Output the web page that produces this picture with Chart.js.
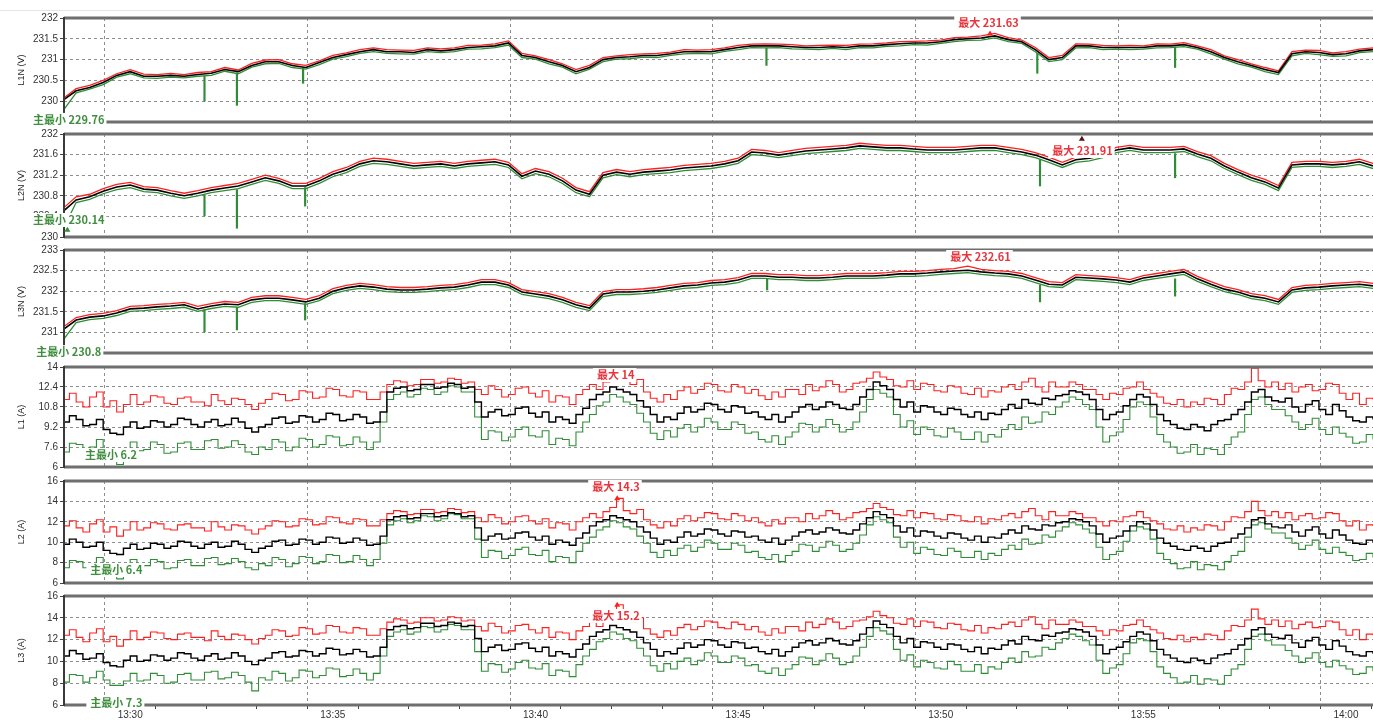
<!DOCTYPE html>
<html>
<head>
<meta charset="utf-8">
<script src="https://cdn.jsdelivr.net/npm/chart.js@4.4.1/dist/chart.umd.min.js"></script>
<style>
    body { margin: 0; background: #fff; width: 1373px; height: 720px; overflow: hidden; position: relative; }
    #topline { position: absolute; left: 0; top: 10px; width: 1373px; height: 1px; background: #e4e4e4; }
    canvas { position: absolute; left: 0; }
</style>
</head>
<body>
<div id="topline"></div>
<div id="panels"></div>
<script>
// 时间轴：以 13:00:00 起算的秒数
const START_SEC = 1700;   // 13:28:20
const V_STEP = 20;        // 电压每 20 秒一个采样
const A_STEP = 10;        // 电流每 10 秒一个采样
const X_MIN = 1702;       // 13:28:22
const X_MAX = 3640;       // 14:00:40

// ---------- L1N (V) ----------
const l1nMax = [230.06, 230.30, 230.38, 230.50, 230.66, 230.76, 230.65, 230.64, 230.67, 230.64,
    230.69, 230.71, 230.81, 230.75, 230.91, 230.99, 231.00, 230.90, 230.86, 230.97,
    231.10, 231.16, 231.24, 231.28, 231.24, 231.23, 231.22, 231.28, 231.26, 231.28,
    231.34, 231.35, 231.38, 231.45, 231.15, 231.09, 231.00, 230.90, 230.76, 230.86,
    231.05, 231.09, 231.12, 231.14, 231.15, 231.18, 231.24, 231.23, 231.24, 231.28,
    231.34, 231.37, 231.38, 231.37, 231.36, 231.33, 231.34, 231.35, 231.34, 231.37,
    231.38, 231.40, 231.43, 231.44, 231.45, 231.47, 231.53, 231.54, 231.57, 231.63,
    231.53, 231.47, 231.29, 231.05, 231.10, 231.38, 231.37, 231.34, 231.33, 231.34,
    231.33, 231.38, 231.37, 231.41, 231.33, 231.24, 231.09, 231.00, 230.90, 230.81,
    230.73, 231.19, 231.23, 231.22, 231.16, 231.19, 231.25, 231.28];
const l1nAvg = [230.02, 230.25, 230.33, 230.45, 230.62, 230.71, 230.60, 230.60, 230.62, 230.60,
    230.64, 230.67, 230.76, 230.71, 230.86, 230.95, 230.95, 230.86, 230.81, 230.93,
    231.05, 231.12, 231.19, 231.24, 231.19, 231.19, 231.17, 231.24, 231.21, 231.24,
    231.29, 231.31, 231.33, 231.40, 231.10, 231.05, 230.95, 230.86, 230.71, 230.81,
    231.00, 231.05, 231.07, 231.10, 231.10, 231.14, 231.19, 231.19, 231.19, 231.24,
    231.29, 231.33, 231.33, 231.33, 231.31, 231.29, 231.29, 231.31, 231.29, 231.33,
    231.33, 231.36, 231.38, 231.40, 231.40, 231.43, 231.48, 231.50, 231.52, 231.57,
    231.48, 231.43, 231.24, 231.00, 231.05, 231.33, 231.33, 231.29, 231.29, 231.29,
    231.29, 231.33, 231.33, 231.36, 231.29, 231.19, 231.05, 230.95, 230.86, 230.76,
    230.69, 231.14, 231.19, 231.17, 231.12, 231.14, 231.21, 231.24];
const l1nMin = [229.76, 230.20, 230.29, 230.40, 230.58, 230.66, 230.56, 230.55, 230.58, 230.56,
    230.60, 230.62, 230.72, 230.66, 230.82, 230.90, 230.91, 230.81, 230.77, 230.88,
    231.01, 231.07, 231.15, 231.19, 231.15, 231.14, 231.13, 231.19, 231.17, 231.19,
    231.25, 231.26, 231.29, 231.35, 231.05, 231.01, 230.90, 230.82, 230.66, 230.77,
    230.95, 231.01, 231.02, 231.06, 231.05, 231.10, 231.14, 231.15, 231.14, 231.20,
    231.24, 231.29, 231.28, 231.29, 231.26, 231.25, 231.24, 231.27, 231.24, 231.29,
    231.28, 231.32, 231.33, 231.36, 231.35, 231.39, 231.43, 231.46, 231.47, 231.52,
    231.43, 231.39, 231.19, 230.95, 231.00, 231.28, 231.29, 231.24, 231.25, 231.24,
    231.25, 231.28, 231.29, 231.31, 231.25, 231.14, 231.01, 230.90, 230.82, 230.71,
    230.64, 231.09, 231.15, 231.12, 231.08, 231.09, 231.17, 231.19];
// 瞬时跌落 [时间秒, 最低, 起点]
const l1nDips = [[1910, 230.00, 230.60], [1958, 229.90, 230.68], [2056, 230.43, 230.80],
    [2742, 230.86, 231.28], [3143, 230.67, 231.15], [3347, 230.81, 231.30]];
const l1nTicks = [229.5, 230, 230.5, 231, 231.5, 232];

// ---------- L2N (V) ----------
const l2nMax = [230.55, 230.78, 230.83, 230.94, 231.02, 231.06, 230.98, 230.96, 230.90, 230.85,
    230.90, 230.96, 231.00, 231.04, 231.12, 231.20, 231.14, 231.04, 231.04, 231.14,
    231.27, 231.35, 231.47, 231.53, 231.51, 231.47, 231.43, 231.45, 231.47, 231.43,
    231.47, 231.49, 231.51, 231.45, 231.23, 231.33, 231.27, 231.14, 230.96, 230.88,
    231.25, 231.31, 231.27, 231.31, 231.33, 231.35, 231.39, 231.41, 231.43, 231.47,
    231.53, 231.70, 231.68, 231.64, 231.68, 231.72, 231.74, 231.76, 231.78, 231.82,
    231.80, 231.78, 231.78, 231.76, 231.74, 231.74, 231.74, 231.76, 231.78, 231.78,
    231.74, 231.70, 231.64, 231.55, 231.45, 231.55, 231.58, 231.64, 231.74, 231.78,
    231.74, 231.74, 231.74, 231.76, 231.66, 231.58, 231.43, 231.31, 231.20, 231.12,
    231.00, 231.45, 231.47, 231.47, 231.45, 231.47, 231.51, 231.43];
const l2nAvg = [230.49, 230.72, 230.78, 230.89, 230.97, 231.01, 230.93, 230.91, 230.85, 230.80,
    230.85, 230.91, 230.95, 230.99, 231.07, 231.15, 231.09, 230.99, 230.99, 231.09,
    231.22, 231.30, 231.42, 231.48, 231.46, 231.42, 231.38, 231.40, 231.42, 231.38,
    231.42, 231.44, 231.46, 231.40, 231.18, 231.28, 231.22, 231.09, 230.91, 230.83,
    231.20, 231.26, 231.22, 231.26, 231.28, 231.30, 231.34, 231.36, 231.38, 231.42,
    231.48, 231.65, 231.63, 231.59, 231.63, 231.67, 231.69, 231.71, 231.73, 231.77,
    231.75, 231.73, 231.73, 231.71, 231.69, 231.69, 231.69, 231.71, 231.73, 231.73,
    231.69, 231.65, 231.59, 231.50, 231.40, 231.50, 231.53, 231.59, 231.69, 231.73,
    231.69, 231.69, 231.69, 231.71, 231.61, 231.53, 231.38, 231.26, 231.15, 231.07,
    230.95, 231.40, 231.42, 231.42, 231.40, 231.42, 231.46, 231.38];
const l2nMin = [230.14, 230.67, 230.73, 230.84, 230.92, 230.96, 230.88, 230.86, 230.80, 230.75,
    230.80, 230.86, 230.90, 230.94, 231.02, 231.10, 231.04, 230.94, 230.94, 231.04,
    231.17, 231.25, 231.37, 231.43, 231.41, 231.37, 231.33, 231.35, 231.37, 231.33,
    231.37, 231.39, 231.41, 231.35, 231.13, 231.23, 231.17, 231.04, 230.86, 230.78,
    231.15, 231.21, 231.17, 231.21, 231.23, 231.25, 231.29, 231.31, 231.33, 231.37,
    231.43, 231.60, 231.58, 231.54, 231.58, 231.62, 231.64, 231.66, 231.68, 231.72,
    231.70, 231.68, 231.68, 231.66, 231.64, 231.64, 231.64, 231.66, 231.68, 231.68,
    231.64, 231.60, 231.54, 231.45, 231.35, 231.45, 231.48, 231.54, 231.64, 231.68,
    231.64, 231.64, 231.64, 231.66, 231.56, 231.48, 231.33, 231.21, 231.10, 231.02,
    230.90, 231.35, 231.37, 231.37, 231.35, 231.37, 231.41, 231.33];
const l2nDips = [[1910, 230.41, 230.82], [1958, 230.17, 230.92], [2059, 230.60, 230.96],
    [3147, 230.99, 231.50], [3347, 231.15, 231.62]];
const l2nTicks = [230, 230.4, 230.8, 231.2, 231.6, 232];

// ---------- L3N (V) ----------
const l3nMax = [231.12, 231.36, 231.43, 231.46, 231.53, 231.63, 231.65, 231.68, 231.70, 231.73,
    231.63, 231.70, 231.75, 231.73, 231.85, 231.89, 231.89, 231.85, 231.80, 231.89,
    232.06, 232.14, 232.19, 232.16, 232.11, 232.09, 232.09, 232.11, 232.14, 232.16,
    232.21, 232.28, 232.28, 232.21, 232.04, 231.99, 231.94, 231.85, 231.73, 231.65,
    231.99, 232.04, 232.04, 232.06, 232.09, 232.14, 232.19, 232.21, 232.26, 232.28,
    232.33, 232.43, 232.43, 232.40, 232.40, 232.38, 232.38, 232.40, 232.43, 232.43,
    232.43, 232.45, 232.48, 232.48, 232.50, 232.53, 232.55, 232.61, 232.53, 232.50,
    232.48, 232.43, 232.33, 232.23, 232.21, 232.40, 232.38, 232.36, 232.33, 232.28,
    232.38, 232.43, 232.48, 232.53, 232.36, 232.23, 232.11, 232.04, 231.94, 231.89,
    231.80, 232.09, 232.14, 232.16, 232.19, 232.21, 232.23, 232.19];
const l3nAvg = [231.06, 231.30, 231.37, 231.40, 231.47, 231.57, 231.59, 231.62, 231.64, 231.67,
    231.57, 231.64, 231.69, 231.67, 231.79, 231.83, 231.83, 231.79, 231.74, 231.83,
    232.00, 232.08, 232.13, 232.10, 232.05, 232.03, 232.03, 232.05, 232.08, 232.10,
    232.15, 232.22, 232.22, 232.15, 231.98, 231.93, 231.88, 231.79, 231.67, 231.59,
    231.93, 231.98, 231.98, 232.00, 232.03, 232.08, 232.13, 232.15, 232.20, 232.22,
    232.27, 232.37, 232.37, 232.34, 232.34, 232.32, 232.32, 232.34, 232.37, 232.37,
    232.37, 232.39, 232.42, 232.42, 232.44, 232.47, 232.49, 232.51, 232.47, 232.44,
    232.42, 232.37, 232.27, 232.17, 232.15, 232.34, 232.32, 232.30, 232.27, 232.22,
    232.32, 232.37, 232.42, 232.47, 232.30, 232.17, 232.05, 231.98, 231.88, 231.83,
    231.74, 232.03, 232.08, 232.10, 232.13, 232.15, 232.17, 232.13];
const l3nMin = [230.80, 231.24, 231.31, 231.34, 231.41, 231.51, 231.53, 231.56, 231.58, 231.61,
    231.51, 231.58, 231.63, 231.61, 231.73, 231.77, 231.77, 231.73, 231.68, 231.77,
    231.94, 232.02, 232.07, 232.04, 231.99, 231.97, 231.97, 231.99, 232.02, 232.04,
    232.09, 232.16, 232.16, 232.09, 231.92, 231.87, 231.82, 231.73, 231.61, 231.53,
    231.87, 231.92, 231.92, 231.94, 231.97, 232.02, 232.07, 232.09, 232.14, 232.16,
    232.21, 232.31, 232.31, 232.28, 232.28, 232.26, 232.26, 232.28, 232.31, 232.31,
    232.31, 232.33, 232.36, 232.36, 232.38, 232.41, 232.43, 232.45, 232.41, 232.38,
    232.36, 232.31, 232.21, 232.11, 232.09, 232.28, 232.26, 232.24, 232.21, 232.16,
    232.26, 232.31, 232.36, 232.41, 232.24, 232.11, 231.99, 231.92, 231.82, 231.77,
    231.68, 231.97, 232.02, 232.04, 232.07, 232.09, 232.11, 232.07];
const l3nDips = [[1910, 231.01, 231.55], [1958, 231.06, 231.60], [2059, 231.30, 231.70],
    [2743, 232.03, 232.30], [3147, 231.74, 232.15], [3347, 231.88, 232.30]];
const l3nTicks = [230.5, 231, 231.5, 232, 232.5, 233];

// ---------- L1 (A) ----------
const l1Max = [11.4, 11.9, 11.2, 10.8, 11.6, 12.0, 10.8, 11.3, 10.4, 11.0,
    11.8, 11.0, 11.2, 11.7, 11.6, 11.1, 11.0, 11.5, 11.6, 11.2,
    11.2, 10.9, 11.8, 11.3, 11.0, 11.5, 11.4, 11.0, 10.6, 11.1,
    11.4, 11.9, 11.8, 11.3, 11.4, 12.1, 12.0, 11.5, 11.6, 12.3,
    12.2, 11.7, 11.6, 12.1, 12.0, 11.4, 11.4, 12.0, 12.6, 12.9,
    12.8, 12.5, 12.6, 13.0, 13.0, 12.7, 12.8, 13.1, 13.0, 12.7,
    12.8, 12.2, 11.8, 12.5, 12.2, 11.6, 11.8, 12.3, 12.4, 11.9,
    11.6, 12.1, 11.2, 11.7, 11.6, 11.0, 11.8, 12.2, 12.6, 12.2,
    12.8, 13.2, 14.0, 12.9, 12.6, 13.0, 12.0, 11.5, 11.2, 11.8,
    11.4, 12.1, 12.4, 11.9, 12.2, 12.7, 12.6, 12.1, 12.0, 12.6,
    12.4, 11.9, 12.2, 11.7, 11.4, 12.0, 11.6, 12.2, 12.2, 11.8,
    12.6, 12.1, 12.4, 12.9, 12.6, 12.0, 12.2, 12.7, 12.8, 13.1,
    13.6, 13.2, 13.0, 12.5, 12.4, 12.9, 12.2, 12.7, 12.6, 12.1,
    12.0, 12.5, 12.4, 11.9, 11.8, 12.3, 11.6, 12.1, 12.0, 12.4,
    12.6, 12.2, 12.8, 13.1, 12.4, 12.0, 12.8, 12.4, 12.4, 12.8,
    12.6, 12.2, 12.2, 11.8, 11.4, 11.9, 11.8, 12.3, 12.4, 12.8,
    12.2, 11.9, 11.6, 11.1, 11.0, 11.4, 10.8, 11.2, 11.0, 11.5,
    11.4, 11.0, 11.8, 12.3, 12.2, 12.8, 13.9, 12.9, 12.4, 12.8,
    12.2, 12.7, 12.0, 12.4, 12.6, 12.1, 12.2, 12.7, 12.6, 11.9,
    11.4, 11.9, 11.0, 11.5, 11.4];
const l1Avg = [9.6, 10.1, 9.8, 9.3, 9.4, 9.8, 9.0, 8.7, 8.6, 9.2,
    9.6, 9.1, 9.2, 9.7, 9.6, 9.2, 9.4, 9.9, 9.8, 9.4,
    9.2, 9.6, 9.8, 9.3, 9.4, 9.9, 9.6, 9.1, 8.8, 9.2,
    9.4, 9.9, 10.0, 9.5, 9.6, 10.1, 10.0, 9.6, 9.8, 10.3,
    10.2, 9.7, 9.8, 10.2, 10.0, 9.5, 9.6, 10.4, 12.0, 12.3,
    12.4, 12.1, 12.2, 12.6, 12.6, 12.3, 12.4, 12.7, 12.6, 12.3,
    12.4, 11.2, 10.0, 10.4, 10.6, 10.1, 10.2, 10.7, 10.8, 10.3,
    10.0, 10.4, 9.6, 10.0, 9.8, 9.5, 10.2, 10.7, 11.4, 11.8,
    12.0, 12.4, 12.2, 12.0, 11.8, 11.3, 10.8, 10.2, 9.6, 10.0,
    9.8, 10.3, 10.8, 10.4, 10.6, 11.1, 11.0, 10.6, 10.4, 10.9,
    10.8, 10.3, 10.4, 10.0, 9.8, 10.2, 9.6, 10.0, 10.4, 10.8,
    11.0, 10.6, 10.8, 11.2, 11.0, 10.7, 10.6, 11.0, 11.6, 12.2,
    12.8, 12.5, 12.2, 11.4, 10.8, 11.2, 10.4, 10.9, 10.8, 10.4,
    10.2, 10.7, 10.6, 10.2, 10.0, 10.4, 9.8, 10.3, 10.2, 10.6,
    11.0, 10.7, 11.4, 11.1, 11.0, 11.5, 11.4, 11.7, 11.8, 12.1,
    12.0, 11.8, 11.4, 10.6, 9.8, 10.2, 10.4, 10.9, 11.4, 11.8,
    11.6, 11.0, 10.2, 9.7, 9.4, 9.1, 9.0, 9.4, 9.2, 8.9,
    9.4, 9.7, 9.8, 10.2, 10.6, 11.2, 12.0, 12.2, 11.6, 11.3,
    11.2, 11.5, 10.8, 10.4, 11.0, 11.3, 10.6, 10.2, 11.0, 10.5,
    10.0, 9.7, 9.6, 10.0, 9.8];
const l1Min = [7.2, 7.9, 7.8, 7.2, 7.6, 8.2, 7.4, 6.9, 6.2, 7.3,
    8.0, 7.3, 7.4, 8.0, 7.8, 7.1, 7.2, 7.9, 8.0, 7.4,
    7.4, 8.1, 8.2, 7.5, 7.6, 8.1, 7.8, 7.2, 7.0, 7.6,
    7.4, 8.2, 8.0, 7.3, 7.6, 8.3, 8.2, 7.6, 7.8, 8.5,
    8.4, 7.7, 7.8, 8.4, 8.0, 7.4, 8.0, 9.6, 11.4, 11.8,
    12.0, 11.6, 11.8, 12.3, 12.2, 11.8, 12.0, 12.5, 12.4, 12.0,
    12.0, 10.0, 8.2, 8.9, 8.8, 8.1, 8.4, 9.0, 9.2, 8.5,
    8.4, 8.9, 7.8, 8.3, 8.2, 7.7, 8.8, 9.6, 10.2, 10.9,
    11.2, 11.8, 11.6, 11.2, 11.0, 10.3, 9.6, 8.7, 8.2, 8.9,
    8.4, 9.1, 9.4, 8.8, 9.2, 9.9, 9.6, 9.0, 9.0, 9.6,
    9.4, 8.7, 8.8, 8.2, 8.0, 8.5, 7.8, 8.4, 8.8, 9.5,
    9.4, 8.8, 9.2, 9.8, 9.4, 8.8, 9.0, 9.6, 10.4, 11.4,
    12.2, 11.9, 11.6, 10.2, 9.2, 9.7, 8.6, 9.2, 9.0, 8.5,
    8.4, 9.1, 8.8, 8.2, 8.2, 8.8, 8.0, 8.6, 8.4, 9.0,
    9.4, 9.0, 10.0, 9.5, 9.6, 10.4, 10.2, 10.8, 11.2, 11.6,
    11.4, 11.0, 10.6, 9.2, 8.0, 8.5, 8.8, 9.8, 10.8, 11.2,
    11.0, 10.0, 8.6, 8.0, 7.6, 7.1, 7.2, 7.8, 7.0, 7.5,
    7.4, 7.0, 7.8, 8.4, 8.8, 10.2, 11.4, 11.6, 11.0, 10.6,
    10.6, 10.1, 9.6, 9.0, 9.4, 9.9, 9.0, 8.6, 9.2, 8.7,
    8.4, 7.9, 8.0, 8.6, 8.2];
const l1Ticks = [6, 7.6, 9.2, 10.8, 12.4, 14];

// ---------- L2 (A) ----------
const l2Max = [11.6, 12.1, 11.4, 11.0, 11.8, 12.2, 11.0, 11.5, 10.6, 11.2,
    12.0, 11.2, 11.4, 11.9, 11.8, 11.3, 11.2, 11.7, 11.8, 11.4,
    11.4, 11.1, 12.0, 11.5, 11.2, 11.7, 11.6, 11.2, 10.8, 11.3,
    11.6, 12.1, 12.0, 11.5, 11.6, 12.3, 12.2, 11.7, 11.8, 12.5,
    12.4, 11.9, 11.8, 12.3, 12.2, 11.6, 11.6, 12.2, 12.8, 13.1,
    13.0, 12.7, 12.8, 13.2, 13.2, 12.9, 13.0, 13.3, 13.2, 12.9,
    13.0, 12.4, 12.0, 12.7, 12.4, 11.8, 12.0, 12.5, 12.6, 12.1,
    11.8, 12.3, 11.4, 11.9, 11.8, 11.2, 12.0, 12.4, 12.8, 12.4,
    13.0, 13.4, 14.3, 13.1, 12.8, 13.2, 12.2, 11.7, 11.4, 12.0,
    11.6, 12.3, 12.6, 12.1, 12.4, 12.9, 12.8, 12.3, 12.2, 12.8,
    12.6, 12.1, 12.4, 11.9, 11.6, 12.2, 11.8, 12.4, 12.4, 12.0,
    12.8, 12.3, 12.6, 13.1, 12.8, 12.2, 12.4, 12.9, 13.0, 13.3,
    13.8, 13.4, 13.2, 12.7, 12.6, 13.1, 12.4, 12.9, 12.8, 12.3,
    12.2, 12.7, 12.6, 12.1, 12.0, 12.5, 11.8, 12.3, 12.2, 12.6,
    12.8, 12.4, 13.0, 13.3, 12.6, 12.2, 13.0, 12.6, 12.6, 13.0,
    12.8, 12.4, 12.4, 12.0, 11.6, 12.1, 12.0, 12.5, 12.6, 13.0,
    12.4, 12.1, 11.8, 11.3, 11.2, 11.6, 11.0, 11.4, 11.2, 11.7,
    11.6, 11.2, 12.0, 12.5, 12.4, 13.0, 14.0, 13.1, 12.6, 13.0,
    12.4, 12.9, 12.2, 12.6, 12.8, 12.3, 12.4, 12.9, 12.8, 12.1,
    11.6, 12.1, 11.2, 11.7, 11.6];
const l2Avg = [9.8, 10.3, 10.0, 9.5, 9.6, 10.0, 9.2, 8.9, 8.8, 9.4,
    9.8, 9.3, 9.4, 9.9, 9.8, 9.4, 9.6, 10.1, 10.0, 9.6,
    9.4, 9.8, 10.0, 9.5, 9.6, 10.1, 9.8, 9.3, 9.0, 9.4,
    9.6, 10.1, 10.2, 9.7, 9.8, 10.3, 10.2, 9.8, 10.0, 10.5,
    10.4, 9.9, 10.0, 10.4, 10.2, 9.7, 9.8, 10.6, 12.2, 12.5,
    12.6, 12.3, 12.4, 12.8, 12.8, 12.5, 12.6, 12.9, 12.8, 12.5,
    12.6, 11.4, 10.2, 10.6, 10.8, 10.3, 10.4, 10.9, 11.0, 10.5,
    10.2, 10.6, 9.8, 10.2, 10.0, 9.7, 10.4, 10.9, 11.6, 12.0,
    12.2, 12.6, 12.4, 12.2, 12.0, 11.5, 11.0, 10.4, 9.8, 10.2,
    10.0, 10.5, 11.0, 10.6, 10.8, 11.3, 11.2, 10.8, 10.6, 11.1,
    11.0, 10.5, 10.6, 10.2, 10.0, 10.4, 9.8, 10.2, 10.6, 11.0,
    11.2, 10.8, 11.0, 11.4, 11.2, 10.9, 10.8, 11.2, 11.8, 12.4,
    13.0, 12.7, 12.4, 11.6, 11.0, 11.4, 10.6, 11.1, 11.0, 10.6,
    10.4, 10.9, 10.8, 10.4, 10.2, 10.6, 10.0, 10.5, 10.4, 10.8,
    11.2, 10.9, 11.6, 11.3, 11.2, 11.7, 11.6, 11.9, 12.0, 12.3,
    12.2, 12.0, 11.6, 10.8, 10.0, 10.4, 10.6, 11.1, 11.6, 12.0,
    11.8, 11.2, 10.4, 9.9, 9.6, 9.3, 9.2, 9.6, 9.4, 9.1,
    9.6, 9.9, 10.0, 10.4, 10.8, 11.4, 12.2, 12.4, 11.8, 11.5,
    11.4, 11.7, 11.0, 10.6, 11.2, 11.5, 10.8, 10.4, 11.2, 10.7,
    10.2, 9.9, 9.8, 10.2, 10.0];
const l2Min = [7.5, 8.2, 8.1, 7.5, 7.9, 8.5, 7.7, 7.2, 6.4, 7.6,
    8.3, 7.6, 7.7, 8.3, 8.1, 7.4, 7.5, 8.2, 8.3, 7.7,
    7.7, 8.4, 8.5, 7.8, 7.9, 8.4, 8.1, 7.5, 7.3, 7.9,
    7.7, 8.5, 8.3, 7.6, 7.9, 8.6, 8.5, 7.9, 8.1, 8.8,
    8.7, 8.0, 8.1, 8.7, 8.3, 7.7, 8.3, 9.9, 11.7, 12.1,
    12.3, 11.9, 12.1, 12.6, 12.5, 12.1, 12.3, 12.8, 12.7, 12.3,
    12.3, 10.3, 8.5, 9.2, 9.1, 8.4, 8.7, 9.3, 9.5, 8.8,
    8.7, 9.2, 8.1, 8.6, 8.5, 8.0, 9.1, 9.9, 10.5, 11.2,
    11.5, 12.1, 11.9, 11.5, 11.3, 10.6, 9.9, 9.0, 8.5, 9.2,
    8.7, 9.4, 9.7, 9.1, 9.5, 10.2, 9.9, 9.3, 9.3, 9.9,
    9.7, 9.0, 9.1, 8.5, 8.3, 8.8, 8.1, 8.7, 9.1, 9.8,
    9.7, 9.1, 9.5, 10.1, 9.7, 9.1, 9.3, 9.9, 10.7, 11.7,
    12.5, 12.2, 11.9, 10.5, 9.5, 10.0, 8.9, 9.5, 9.3, 8.8,
    8.7, 9.4, 9.1, 8.5, 8.5, 9.1, 8.3, 8.9, 8.7, 9.3,
    9.7, 9.3, 10.3, 9.8, 9.9, 10.7, 10.5, 11.1, 11.5, 11.9,
    11.7, 11.3, 10.9, 9.5, 8.3, 8.8, 9.1, 10.1, 11.1, 11.5,
    11.3, 10.3, 8.9, 8.3, 7.9, 7.4, 7.5, 8.1, 7.3, 7.8,
    7.7, 7.3, 8.1, 8.7, 9.1, 10.5, 11.7, 11.9, 11.3, 10.9,
    10.9, 10.4, 9.9, 9.3, 9.7, 10.2, 9.3, 8.9, 9.5, 9.0,
    8.7, 8.2, 8.3, 8.9, 8.5];
const l2Ticks = [6, 8, 10, 12, 14, 16];

// ---------- L3 (A) ----------
const l3Max = [12.4, 12.9, 12.2, 11.8, 12.6, 13.0, 11.8, 12.3, 11.4, 12.0,
    12.8, 12.0, 12.2, 12.7, 12.6, 12.1, 12.0, 12.5, 12.6, 12.2,
    12.2, 11.9, 12.8, 12.3, 12.0, 12.5, 12.4, 12.0, 11.6, 12.1,
    12.4, 12.9, 12.8, 12.3, 12.4, 13.1, 13.0, 12.5, 12.6, 13.3,
    13.2, 12.7, 12.6, 13.1, 13.0, 12.4, 12.4, 13.0, 13.6, 13.9,
    13.8, 13.5, 13.6, 14.0, 14.0, 13.7, 13.8, 14.1, 14.0, 13.7,
    13.8, 13.2, 12.8, 13.5, 13.2, 12.6, 12.8, 13.3, 13.4, 12.9,
    12.6, 13.1, 12.2, 12.7, 12.6, 12.0, 12.8, 13.2, 13.6, 13.2,
    13.8, 14.2, 15.2, 13.9, 13.6, 14.0, 13.0, 12.5, 12.2, 12.8,
    12.4, 13.1, 13.4, 12.9, 13.2, 13.7, 13.6, 13.1, 13.0, 13.6,
    13.4, 12.9, 13.2, 12.7, 12.4, 13.0, 12.6, 13.2, 13.2, 12.8,
    13.6, 13.1, 13.4, 13.9, 13.6, 13.0, 13.2, 13.7, 13.8, 14.1,
    14.6, 14.2, 14.0, 13.5, 13.4, 13.9, 13.2, 13.7, 13.6, 13.1,
    13.0, 13.5, 13.4, 12.9, 12.8, 13.3, 12.6, 13.1, 13.0, 13.4,
    13.6, 13.2, 13.8, 14.1, 13.4, 13.0, 13.8, 13.4, 13.4, 13.8,
    13.6, 13.2, 13.2, 12.8, 12.4, 12.9, 12.8, 13.3, 13.4, 13.8,
    13.2, 12.9, 12.6, 12.1, 12.0, 12.4, 11.8, 12.2, 12.0, 12.5,
    12.4, 12.0, 12.8, 13.3, 13.2, 13.8, 14.8, 13.9, 13.4, 13.8,
    13.2, 13.7, 13.0, 13.4, 13.6, 13.1, 13.2, 13.7, 13.6, 12.9,
    12.4, 12.9, 12.0, 12.5, 12.4];
const l3Avg = [10.5, 11.0, 10.7, 10.2, 10.3, 10.7, 9.9, 9.6, 9.5, 10.1,
    10.5, 10.0, 10.1, 10.6, 10.5, 10.1, 10.3, 10.8, 10.7, 10.3,
    10.1, 10.5, 10.7, 10.2, 10.3, 10.8, 10.5, 10.0, 9.7, 10.1,
    10.3, 10.8, 10.9, 10.4, 10.5, 11.0, 10.9, 10.5, 10.7, 11.2,
    11.1, 10.6, 10.7, 11.1, 10.9, 10.4, 10.5, 11.3, 12.9, 13.2,
    13.3, 13.0, 13.1, 13.5, 13.5, 13.2, 13.3, 13.6, 13.5, 13.2,
    13.3, 12.1, 10.9, 11.3, 11.5, 11.0, 11.1, 11.6, 11.7, 11.2,
    10.9, 11.3, 10.5, 10.9, 10.7, 10.4, 11.1, 11.6, 12.3, 12.7,
    12.9, 13.3, 13.1, 12.9, 12.7, 12.2, 11.7, 11.1, 10.5, 10.9,
    10.7, 11.2, 11.7, 11.3, 11.5, 12.0, 11.9, 11.5, 11.3, 11.8,
    11.7, 11.2, 11.3, 10.9, 10.7, 11.1, 10.5, 10.9, 11.3, 11.7,
    11.9, 11.5, 11.7, 12.1, 11.9, 11.6, 11.5, 11.9, 12.5, 13.1,
    13.7, 13.4, 13.1, 12.3, 11.7, 12.1, 11.3, 11.8, 11.7, 11.3,
    11.1, 11.6, 11.5, 11.1, 10.9, 11.3, 10.7, 11.2, 11.1, 11.5,
    11.9, 11.6, 12.3, 12.0, 11.9, 12.4, 12.3, 12.6, 12.7, 13.0,
    12.9, 12.7, 12.3, 11.5, 10.7, 11.1, 11.3, 11.8, 12.3, 12.7,
    12.5, 11.9, 11.1, 10.6, 10.3, 10.0, 9.9, 10.3, 10.1, 9.8,
    10.3, 10.6, 10.7, 11.1, 11.5, 12.1, 12.9, 13.1, 12.5, 12.2,
    12.1, 12.4, 11.7, 11.3, 11.9, 12.2, 11.5, 11.1, 11.9, 11.4,
    10.9, 10.6, 10.5, 10.9, 10.7];
const l3Min = [8.1, 8.8, 8.7, 8.1, 8.5, 9.1, 8.3, 7.8, 7.8, 8.2,
    8.9, 8.2, 8.3, 8.9, 8.7, 8.0, 8.1, 8.8, 8.9, 8.3,
    8.3, 9.0, 9.1, 8.4, 8.5, 9.0, 8.7, 8.1, 7.3, 8.5,
    8.3, 9.1, 8.9, 8.2, 8.5, 9.2, 9.1, 8.5, 8.7, 9.4,
    9.3, 8.6, 8.7, 9.3, 8.9, 8.3, 8.9, 10.5, 12.3, 12.7,
    12.9, 12.5, 12.7, 13.2, 13.1, 12.7, 12.9, 13.4, 13.3, 12.9,
    12.9, 10.9, 9.1, 9.8, 9.7, 9.0, 9.3, 9.9, 10.1, 9.4,
    9.3, 9.8, 8.7, 9.2, 9.1, 8.6, 9.7, 10.5, 11.1, 11.8,
    12.1, 12.7, 12.5, 12.1, 11.9, 11.2, 10.5, 9.6, 9.1, 9.8,
    9.3, 10.0, 10.3, 9.7, 10.1, 10.8, 10.5, 9.9, 9.9, 10.5,
    10.3, 9.6, 9.7, 9.1, 8.9, 9.4, 8.7, 9.3, 9.7, 10.4,
    10.3, 9.7, 10.1, 10.7, 10.3, 9.7, 9.9, 10.5, 11.3, 12.3,
    13.1, 12.8, 12.5, 11.1, 10.1, 10.6, 9.5, 10.1, 9.9, 9.4,
    9.3, 10.0, 9.7, 9.1, 9.1, 9.7, 8.9, 9.5, 9.3, 9.9,
    10.3, 9.9, 10.9, 10.4, 10.5, 11.3, 11.1, 11.7, 12.1, 12.5,
    12.3, 11.9, 11.5, 10.1, 8.9, 9.4, 9.7, 10.7, 11.7, 12.1,
    11.9, 10.9, 9.5, 8.9, 8.5, 8.0, 8.1, 8.7, 7.9, 8.4,
    8.3, 7.9, 8.7, 9.3, 9.7, 11.1, 12.3, 12.5, 11.9, 11.5,
    11.5, 11.0, 10.5, 9.9, 10.3, 10.8, 9.9, 9.5, 10.1, 9.6,
    9.3, 8.8, 8.9, 9.5, 9.1];
const l3Ticks = [6, 8, 10, 12, 14, 16];

// 颜色
const RED = '#ff1f1f';
const RED_TEXT = '#e8343c';
const GREEN = '#2f8d36';
const GREEN_TEXT = '#3f8f3f';
const BLACK = '#000000';
const GRID = '#8e8e8e';
const FRAME = '#6f6f6f';
const TEXT = '#333333';

// 各面板配置（注释标签以数据坐标定位：时间秒, 数值）
const panels = [
    { title: 'L1N (V)', max: l1nMax, avg: l1nAvg, min: l1nMin, dips: l1nDips, ticks: l1nTicks,
      step: V_STEP, top: 18, bottom: 122, stepped: false,
      notes: [{ text: '最大 231.63', color: RED_TEXT, t: 3026, v: 231.88 },
              { text: '主最小 229.76', color: GREEN_TEXT, t: 1656, v: 229.55 }],
      marks: [{ t: 3073, v: 231.63, color: RED }] },
    { title: 'L2N (V)', max: l2nMax, avg: l2nAvg, min: l2nMin, dips: l2nDips, ticks: l2nTicks,
      step: V_STEP, top: 134, bottom: 237, stepped: false,
      notes: [{ text: '最大 231.91', color: RED_TEXT, t: 3165, v: 231.67 },
              { text: '主最小 230.14', color: GREEN_TEXT, t: 1656, v: 230.33 }],
      marks: [{ t: 3209, v: 231.91, color: '#5a1010' }, { t: 1707, v: 230.14, color: GREEN }] },
    { title: 'L3N (V)', max: l3nMax, avg: l3nAvg, min: l3nMin, dips: l3nDips, ticks: l3nTicks,
      step: V_STEP, top: 250, bottom: 353, stepped: false,
      notes: [{ text: '最大 232.61', color: RED_TEXT, t: 3014, v: 232.83 },
              { text: '主最小 230.8', color: GREEN_TEXT, t: 1661, v: 230.52 }],
      marks: [] },
    { title: 'L1 (A)', max: l1Max, avg: l1Avg, min: l1Min, dips: [], ticks: l1Ticks,
      step: A_STEP, top: 367, bottom: 467, stepped: true,
      notes: [{ text: '最大 14', color: RED_TEXT, t: 2491, v: 13.36 },
              { text: '主最小 6.2', color: GREEN_TEXT, t: 1733, v: 6.96 }],
      marks: [] },
    { title: 'L2 (A)', max: l2Max, avg: l2Avg, min: l2Min, dips: [], ticks: l2Ticks,
      step: A_STEP, top: 481, bottom: 583, stepped: true,
      notes: [{ text: '最大 14.3', color: RED_TEXT, t: 2484, v: 15.41 },
              { text: '主最小 6.4', color: GREEN_TEXT, t: 1741, v: 7.27 }],
      marks: [{ t: 2521, v: 14.3, color: RED }] },
    { title: 'L3 (A)', max: l3Max, avg: l3Avg, min: l3Min, dips: [], ticks: l3Ticks,
      step: A_STEP, top: 596, bottom: 705, stepped: true,
      notes: [{ text: '最大 15.2', color: RED_TEXT, t: 2484, v: 14.17 },
              { text: '主最小 7.3', color: GREEN_TEXT, t: 1741, v: 6.18 }],
      marks: [{ t: 2521, v: 15.2, color: RED }] }
];

/**
 * 时间格式化：秒 -> HH:MM
 */
function fmtTime(sec) {
    const m = Math.round(sec / 60);
    const h = 13 + Math.floor(m / 60);
    return h + ':' + String(m % 60).padStart(2, '0');
}

// 边框 + 注释标签
const panelDecor = {
    id: 'panelDecor',
    afterDatasetsDraw(chart, args, opts) {
        const { ctx, chartArea: a, scales } = chart;
        ctx.save();
        ctx.strokeStyle = FRAME;
        ctx.lineWidth = 3;
        ctx.beginPath();
        ctx.moveTo(a.left, a.top); ctx.lineTo(a.right, a.top);
        ctx.moveTo(a.left, a.bottom); ctx.lineTo(a.right, a.bottom);
        ctx.stroke();
        ctx.strokeStyle = '#3a3a3a';
        ctx.lineWidth = 2;
        ctx.beginPath();
        ctx.moveTo(a.left, a.top - 1); ctx.lineTo(a.left, a.bottom + 1);
        ctx.stroke();

        (opts.marks || []).forEach(m => {
            const x = scales.x.getPixelForValue(m.t);
            const y = scales.y.getPixelForValue(m.v);
            ctx.fillStyle = m.color;
            ctx.beginPath();
            ctx.moveTo(x, y - 3); ctx.lineTo(x + 3, y + 2); ctx.lineTo(x - 3, y + 2);
            ctx.closePath();
            ctx.fill();
        });

        ctx.font = 'bold 11px "Noto Sans CJK SC", sans-serif';
        ctx.textBaseline = 'middle';
        ctx.textAlign = 'left';
        (opts.notes || []).forEach(n => {
            const x = scales.x.getPixelForValue(n.t);
            const y = scales.y.getPixelForValue(n.v);
            const w = ctx.measureText(n.text).width;
            ctx.fillStyle = '#ffffff';
            ctx.fillRect(x - 4, y - 7, w + 6, 14);
            ctx.fillStyle = n.color;
            ctx.fillText(n.text, x, y);
        });
        ctx.restore();
    }
};

/**
 * 初始化单个面板
 */
function initPanelChart(p, isLast) {
    const padTop = 8;
    const padBottom = isLast ? 0 : 8;
    const xAxisH = isLast ? 15 : 0;
    const canvas = document.createElement('canvas');
    canvas.width = 1373;
    canvas.height = (p.bottom - p.top) + padTop + padBottom + xAxisH;
    canvas.style.top = (p.top - padTop) + 'px';
    document.getElementById('panels').appendChild(canvas);

    const xy = arr => arr.map((v, i) => ({ x: START_SEC + p.step * i, y: v }));
    const thin = p.stepped ? 1.1 : 1.3;

    new Chart(canvas.getContext('2d'), {
        type: 'line',
        data: {
            datasets: [
                { data: xy(p.avg), borderColor: BLACK, borderWidth: p.stepped ? 1.4 : 1.6, stepped: p.stepped, order: 0 },
                { data: xy(p.max), borderColor: RED, borderWidth: thin, stepped: p.stepped, order: 1 },
                { data: xy(p.min), borderColor: GREEN, borderWidth: thin, stepped: p.stepped, order: 2 },
                { type: 'bar', data: p.dips.map(d => ({ x: d[0], y: [d[1], d[2]] })),
                  backgroundColor: GREEN, barThickness: 1.5, grouped: false, order: 3 }
            ]
        },
        options: {
            responsive: false,
            animation: false,
            events: [],
            layout: { padding: { top: padTop, bottom: padBottom, left: 0, right: 0 } },
            elements: { point: { radius: 0 }, line: { tension: 0 } },
            plugins: {
                legend: { display: false },
                tooltip: { enabled: false },
                panelDecor: { notes: p.notes, marks: p.marks }
            },
            scales: {
                x: {
                    type: 'linear',
                    min: X_MIN,
                    max: X_MAX,
                    offset: false,
                    afterBuildTicks: s => {
                        const t = [];
                        for (let v = Math.ceil(X_MIN / 75) * 75; v <= X_MAX; v += 75) t.push({ value: v });
                        s.ticks = t;
                    },
                    afterFit: s => { s.height = xAxisH; },
                    grid: {
                        color: c => (c.tick && c.tick.value % 300 === 0) ? GRID : 'rgba(0,0,0,0)',
                        lineWidth: 1,
                        drawTicks: isLast,
                        tickLength: 4,
                        tickColor: '#444'
                    },
                    border: { display: false, dash: [3, 3] },
                    ticks: {
                        display: isLast,
                        autoSkip: false,
                        maxRotation: 0,
                        padding: 0,
                        color: TEXT,
                        font: { family: 'Liberation Sans', size: 10 },
                        callback: v => (v % 300 === 0 ? fmtTime(v) : '')
                    }
                },
                y: {
                    min: p.ticks[0],
                    max: p.ticks[p.ticks.length - 1],
                    afterBuildTicks: s => { s.ticks = p.ticks.map(v => ({ value: v })); },
                    afterFit: s => { s.width = 64; },
                    grid: {
                        color: c => (c.index === 0 || c.index === p.ticks.length - 1) ? 'rgba(0,0,0,0)' : GRID,
                        lineWidth: 1,
                        drawTicks: true,
                        tickLength: 4,
                        tickColor: '#444'
                    },
                    border: { display: false, dash: [3, 3] },
                    ticks: {
                        padding: 2,
                        color: TEXT,
                        font: { family: 'Liberation Sans', size: 10 },
                        callback: v => String(v)
                    },
                    title: {
                        display: true,
                        text: p.title,
                        color: '#222',
                        font: { family: 'Liberation Sans', size: 9 },
                        padding: { top: 16, bottom: 0 }
                    }
                }
            }
        },
        plugins: [panelDecor]
    });
}

document.addEventListener('DOMContentLoaded', function () {
    panels.forEach((p, i) => initPanelChart(p, i === panels.length - 1));
});
</script>
</body>
</html>
